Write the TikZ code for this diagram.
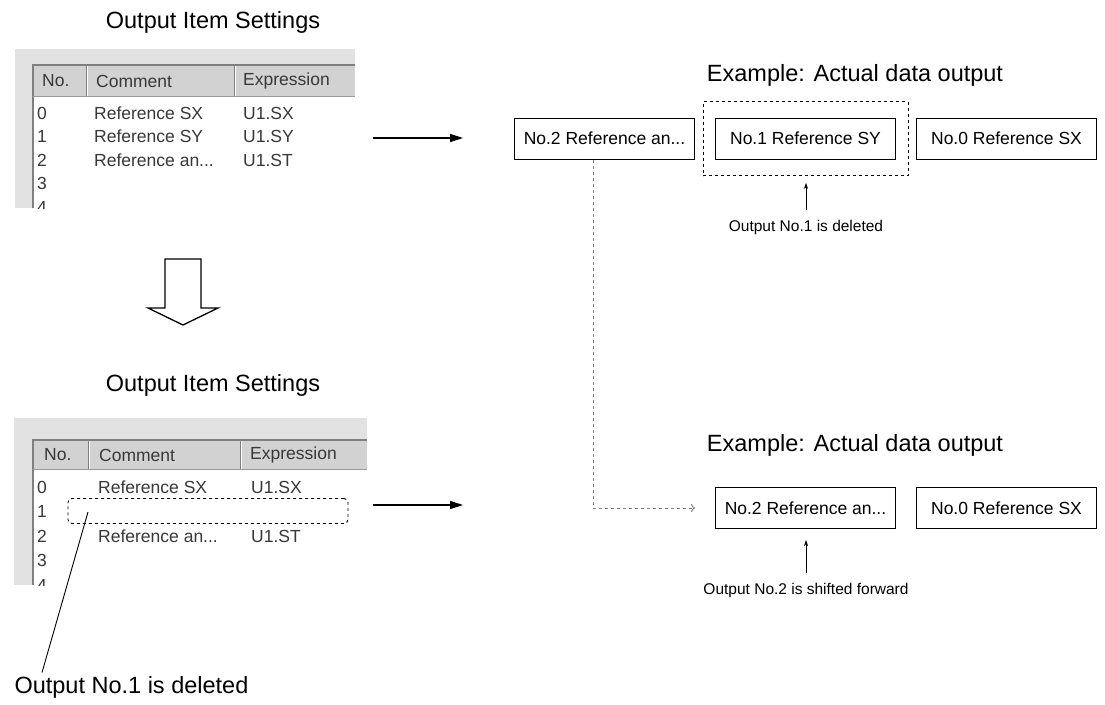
\documentclass[tikz,border=0pt]{standalone}
\usepackage{fontspec}
\setmainfont{Liberation Sans}
\usetikzlibrary{arrows.meta,positioning,fit}
\definecolor{panelgray}{HTML}{E2E2E2}
\definecolor{headgray}{HTML}{D2D2D2}
\definecolor{uitext}{HTML}{383838}
\definecolor{linkgray}{HTML}{7A7A7A}

\begin{document}
\begin{tikzpicture}[
    x=1pt, y=-1pt,
    heading/.style={font=\fontsize{23.5}{28}\selectfont},
    note/.style={font=\fontsize{15.5}{18}\selectfont, inner sep=2pt},
    outbox/.style={rectangle, draw, line width=1pt, minimum width=180pt, minimum height=41pt, font=\fontsize{17.5}{21}\selectfont},
    dashbox/.style={rectangle, draw, dashed, line width=0.9pt, inner xsep=12pt, inner ysep=16pt},
    cell/.style={anchor=west, inner sep=0pt, text=uitext, font=\fontsize{17.5}{20}\selectfont},
    flow/.style={-{Triangle[length=13pt,width=8pt]}, line width=1.4pt},
    pointer/.style={-{Stealth[length=6pt,width=4pt]}, line width=0.6pt},
    link/.style={-{To[length=4pt]}, dashed, linkgray, line width=0.8pt}
]
\useasboundingbox (0,0) rectangle (1105,704);

% top settings window
\node[heading] (set1) at (213,22) {Output Item Settings};
\fill[panelgray] (15,49) rectangle (355,208);
\fill[white] (33,65) rectangle (355,208);
\fill[headgray] (33,65) rectangle (355,96);
\draw[gray, line width=1.2pt] (33,208) -- (33,65) -- (355,65);
\draw[gray!80] (33,96) -- (355,96);
\foreach \sx in {86,234} {
  \draw[gray] (\sx,66) -- (\sx,96);
  \draw[white, line width=1pt] (\sx+1.5,66) -- (\sx+1.5,96);
}
\node[cell] (h1no) at (42,81) {No.};
\node[cell] (h1com) at (96,81) {Comment};
\node[cell] (h1exp) at (243,81) {Expression};
\begin{scope}
  \clip (15,49) rectangle (355,208);
  \foreach \i/\c/\e in {0/Reference SX/U1.SX, 1/Reference SY/U1.SY, 2/Reference an.{}.{}./U1.ST, 3//, 4//} {
    \node[cell] (r1no\i) at (37,{113+23.5*\i}) {\i};
    \node[cell] (r1c\i) at (94,{113+23.5*\i}) {\c};
    \node[cell] (r1e\i) at (243,{113+23.5*\i}) {\e};
  }
\end{scope}

% hollow arrow down
\draw[line width=1.3pt] (165,259) -- (201,259) -- (201,308) -- (218,308) -- (183,325) -- (148,308) -- (165,308) -- cycle;

% lower settings window
\node[heading] (set2) at (213,385) {Output Item Settings};
\fill[panelgray] (14,418) rectangle (367,585);
\fill[white] (33,440) rectangle (367,585);
\fill[headgray] (33,440) rectangle (367,469);
\draw[gray, line width=1.2pt] (33,585) -- (33,440) -- (367,440);
\draw[gray!80] (33,469) -- (367,469);
\foreach \sx in {88,240} {
  \draw[gray] (\sx,441) -- (\sx,469);
  \draw[white, line width=1pt] (\sx+1.5,441) -- (\sx+1.5,469);
}
\node[cell] (h2no) at (44,455) {No.};
\node[cell] (h2com) at (99,455) {Comment};
\node[cell] (h2exp) at (250,455) {Expression};
\begin{scope}
  \clip (14,418) rectangle (367,585);
  \foreach \i/\c/\e in {0/Reference SX/U1.SX, 1//, 2/Reference an.{}.{}./U1.ST, 3//, 4//} {
    \node[cell] (r2no\i) at (37,{487+24.5*\i}) {\i};
    \node[cell] (r2c\i) at (98,{487+24.5*\i}) {\c};
    \node[cell] (r2e\i) at (251,{487+24.5*\i}) {\e};
  }
\end{scope}
\node[draw, dashed, line width=0.9pt, rounded corners=4pt, minimum width=280pt, minimum height=25pt] (del2) at (208,511) {};
\coordinate (delpick) at (88,512);
\node[heading, anchor=west] (delnote) at (11,687) {Output No.1 is deleted};
\draw[line width=0.9pt] (delpick) -- ([xshift=31pt]delnote.north west);

% arrows to the data output
\coordinate (out1a) at (373,138);
\coordinate (out1b) at (463,138);
\draw[flow] (out1a) -- (out1b);
\coordinate (out2a) at (373,505);
\coordinate (out2b) at (463,505);
\draw[flow] (out2a) -- (out2b);

% data output before
\node[heading] (ex1) at (855,75) {Example: Actual data output};
\node[outbox, anchor=east] (b0) at (1097,138.5) {No.0 Reference SX};
\node[outbox, left=20pt of b0] (b1) {No.1 Reference SY};
\node[outbox, left=20pt of b1] (b2) {No.2 Reference an...};
\node[dashbox, fit=(b1)] (del1) {};
\node[note] (n1) at (806,227) {Output No.1 is deleted};
\draw[pointer, shorten >=7pt] ([yshift=8pt]n1.north) -- (n1.north |- del1.south);

% data output after
\node[heading] (ex2) at (855,445) {Example: Actual data output};
\node[outbox, anchor=east] (c0) at (1097,508) {No.0 Reference SX};
\node[outbox, left=20pt of c0] (c2) {No.2 Reference an...};
\node[note] (n2) at (806,590) {Output No.2 is shifted forward};
\draw[pointer, shorten >=11pt] ([yshift=8pt]n2.north) -- (n2.north |- c2.south);

\draw[link] ([xshift=-11pt]b2.south) |- ([xshift=-20pt]c2.west);
\end{tikzpicture}
\end{document}
